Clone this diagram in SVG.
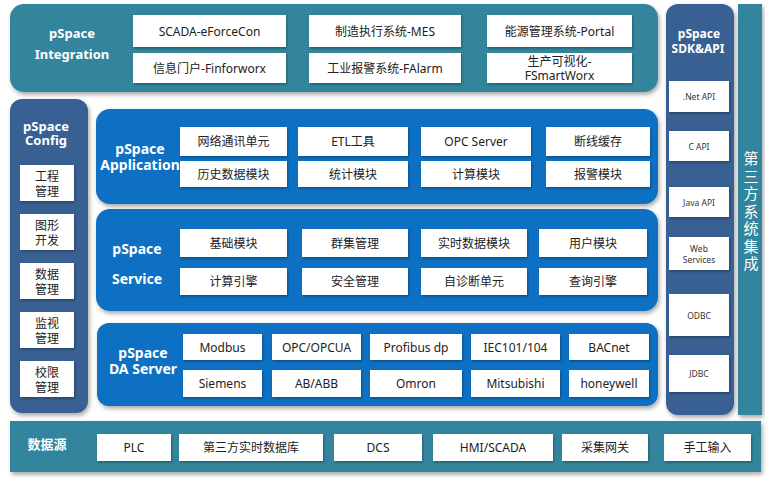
<svg xmlns="http://www.w3.org/2000/svg" width="771" height="478" viewBox="0 0 771 478">
<defs>
<filter id="sh" x="-10%" y="-10%" width="120%" height="130%">
<feDropShadow dx="1.5" dy="2.5" stdDeviation="2" flood-color="#000" flood-opacity="0.35"/>
</filter>
<filter id="bs" x="-10%" y="-10%" width="120%" height="130%">
<feDropShadow dx="1" dy="1.5" stdDeviation="1" flood-color="#000" flood-opacity="0.3"/>
</filter>
<style>
.teal{fill:#31859c}
.navy{fill:#376092}
.blue{fill:#0a70c2}
.box{fill:#ffffff}
.t{font-family:"Noto Sans","Noto Sans CJK SC",sans-serif;font-size:12px;fill:#222;text-anchor:middle;dominant-baseline:central}
.s{font-family:"Noto Sans","Noto Sans CJK SC",sans-serif;font-size:8.5px;fill:#333;text-anchor:middle;dominant-baseline:central}
.h{font-family:"Noto Sans","Noto Sans CJK SC",sans-serif;font-size:13px;font-weight:bold;fill:#fff;text-anchor:middle;dominant-baseline:central}
.v{font-family:"Noto Sans CJK SC",sans-serif;font-size:15px;fill:#fff;text-anchor:middle;dominant-baseline:central}
</style>
</defs>

<g id="integration">
<rect class="teal" x="10" y="4" width="648" height="88" rx="14" filter="url(#sh)"/>
<text class="h" x="72" y="33">pSpace<tspan x="72" dy="21">Integration</tspan></text>
<g filter="url(#bs)">
<rect class="box" x="133" y="15" width="153" height="32"/>
<rect class="box" x="309" y="15" width="152" height="32"/>
<rect class="box" x="487" y="15" width="145" height="32"/>
<rect class="box" x="133" y="53" width="153" height="30"/>
<rect class="box" x="309" y="53" width="152" height="30"/>
<rect class="box" x="487" y="53" width="145" height="30"/>
</g>
<text class="t" x="209.5" y="31">SCADA-eForceCon</text>
<text class="t" x="385" y="31">制造执行系统-MES</text>
<text class="t" x="559.5" y="31">能源管理系统-Portal</text>
<text class="t" x="209.5" y="68">信息门户-Finforworx</text>
<text class="t" x="385" y="68">工业报警系统-FAlarm</text>
<text class="t" x="559.5" y="61">生产可视化-<tspan x="559.5" dy="14">FSmartWorx</tspan></text>
</g>

<g id="config">
<rect class="navy" x="10" y="99" width="78" height="314" rx="12" filter="url(#sh)"/>
<text class="h" x="46" y="126">pSpace<tspan x="46" dy="14">Config</tspan></text>
<g filter="url(#bs)">
<rect class="box" x="20" y="165" width="54" height="36"/>
<rect class="box" x="20" y="214" width="54" height="36"/>
<rect class="box" x="20" y="263" width="54" height="36"/>
<rect class="box" x="20" y="312" width="54" height="36"/>
<rect class="box" x="20" y="361" width="54" height="36"/>
</g>
<text class="t" x="47" y="176">工程<tspan x="47" dy="15">管理</tspan></text>
<text class="t" x="47" y="225">图形<tspan x="47" dy="15">开发</tspan></text>
<text class="t" x="47" y="274">数据<tspan x="47" dy="15">管理</tspan></text>
<text class="t" x="47" y="323">监视<tspan x="47" dy="15">管理</tspan></text>
<text class="t" x="47" y="372">校限<tspan x="47" dy="15">管理</tspan></text>
</g>

<g id="application">
<rect class="blue" x="96" y="109" width="562" height="95" rx="14" filter="url(#sh)"/>
<text class="h" x="140" y="148" style="font-size:14px">pSpace<tspan x="140" dy="16">Application</tspan></text>
<g filter="url(#bs)">
<rect class="box" x="180" y="127" width="107" height="29"/>
<rect class="box" x="298" y="127" width="110" height="29"/>
<rect class="box" x="421" y="127" width="110" height="29"/>
<rect class="box" x="546" y="127" width="104" height="29"/>
<rect class="box" x="180" y="161" width="107" height="26"/>
<rect class="box" x="298" y="161" width="110" height="26"/>
<rect class="box" x="421" y="161" width="110" height="26"/>
<rect class="box" x="546" y="161" width="104" height="26"/>
</g>
<text class="t" x="233.5" y="141.5">网络通讯单元</text>
<text class="t" x="353" y="141.5">ETL工具</text>
<text class="t" x="476" y="141.5">OPC Server</text>
<text class="t" x="598" y="141.5">断线缓存</text>
<text class="t" x="233.5" y="174">历史数据模块</text>
<text class="t" x="353" y="174">统计模块</text>
<text class="t" x="476" y="174">计算模块</text>
<text class="t" x="598" y="174">报警模块</text>
</g>

<g id="service">
<rect class="blue" x="96" y="209" width="562" height="102" rx="14" filter="url(#sh)"/>
<text class="h" x="137" y="248" style="font-size:14px">pSpace</text>
<text class="h" x="137" y="278" style="font-size:14px">Service</text>
<g filter="url(#bs)">
<rect class="box" x="180" y="229" width="107" height="28"/>
<rect class="box" x="302" y="229" width="106" height="28"/>
<rect class="box" x="421" y="229" width="106" height="28"/>
<rect class="box" x="539" y="229" width="108" height="28"/>
<rect class="box" x="180" y="268" width="107" height="27"/>
<rect class="box" x="302" y="268" width="106" height="27"/>
<rect class="box" x="421" y="268" width="106" height="27"/>
<rect class="box" x="539" y="268" width="108" height="27"/>
</g>
<text class="t" x="233.5" y="243">基础模块</text>
<text class="t" x="355" y="243">群集管理</text>
<text class="t" x="474" y="243">实时数据模块</text>
<text class="t" x="593" y="243">用户模块</text>
<text class="t" x="233.5" y="281.5">计算引擎</text>
<text class="t" x="355" y="281.5">安全管理</text>
<text class="t" x="474" y="281.5">自诊断单元</text>
<text class="t" x="593" y="281.5">查询引擎</text>
</g>

<g id="daserver">
<rect class="blue" x="97" y="323" width="561" height="83" rx="12" filter="url(#sh)"/>
<text class="h" x="143" y="352" style="font-size:14px">pSpace<tspan x="143" dy="16">DA Server</tspan></text>
<g filter="url(#bs)">
<rect class="box" x="183" y="334" width="79" height="26"/>
<rect class="box" x="272" y="334" width="89" height="26"/>
<rect class="box" x="370" y="334" width="92" height="26"/>
<rect class="box" x="471" y="334" width="89" height="26"/>
<rect class="box" x="569" y="334" width="80" height="26"/>
<rect class="box" x="183" y="370" width="79" height="27"/>
<rect class="box" x="272" y="370" width="89" height="27"/>
<rect class="box" x="370" y="370" width="92" height="27"/>
<rect class="box" x="471" y="370" width="89" height="27"/>
<rect class="box" x="569" y="370" width="80" height="27"/>
</g>
<text class="t" x="222.5" y="347">Modbus</text>
<text class="t" x="316.5" y="347">OPC/OPCUA</text>
<text class="t" x="416" y="347">Profibus dp</text>
<text class="t" x="515.5" y="347">IEC101/104</text>
<text class="t" x="609" y="347">BACnet</text>
<text class="t" x="222.5" y="383.5">Siemens</text>
<text class="t" x="316.5" y="383.5">AB/ABB</text>
<text class="t" x="416" y="383.5">Omron</text>
<text class="t" x="515.5" y="383.5">Mitsubishi</text>
<text class="t" x="609" y="383.5">honeywell</text>
</g>

<g id="sdkapi">
<rect class="navy" x="666" y="4" width="68" height="411" rx="12" filter="url(#sh)"/>
<text class="h" x="699" y="33" style="font-size:12px">pSpace<tspan x="698" dy="15">SDK&amp;API</tspan></text>
<g filter="url(#bs)">
<rect class="box" x="669" y="81" width="60" height="31"/>
<rect class="box" x="669" y="131" width="60" height="30"/>
<rect class="box" x="669" y="187" width="60" height="30"/>
<rect class="box" x="669" y="237" width="60" height="33"/>
<rect class="box" x="669" y="294" width="60" height="42"/>
<rect class="box" x="669" y="355" width="60" height="37"/>
</g>
<text class="s" x="699" y="96.5">.Net API</text>
<text class="s" x="699" y="146">C API</text>
<text class="s" x="699" y="202">Java API</text>
<text class="s" x="699" y="248">Web<tspan x="699" dy="11">Services</tspan></text>
<text class="s" x="699" y="315">ODBC</text>
<text class="s" x="699" y="373.5">JDBC</text>
</g>

<g id="thirdparty">
<rect class="teal" x="738" y="4" width="24" height="411" filter="url(#sh)"/>
<text class="v" x="751" y="157">第<tspan x="751" dy="17.5">三</tspan><tspan x="751" dy="17.5">方</tspan><tspan x="751" dy="17.5">系</tspan><tspan x="751" dy="17.5">统</tspan><tspan x="751" dy="17.5">集</tspan><tspan x="751" dy="17.5">成</tspan></text>
</g>

<g id="datasource">
<rect class="teal" x="10" y="421" width="751" height="51" filter="url(#sh)"/>
<text class="h" x="47" y="444">数据源</text>
<g filter="url(#bs)">
<rect class="box" x="97" y="434" width="74" height="27"/>
<rect class="box" x="179" y="434" width="144" height="27"/>
<rect class="box" x="334" y="434" width="88" height="27"/>
<rect class="box" x="433" y="434" width="120" height="27"/>
<rect class="box" x="562" y="434" width="86" height="27"/>
<rect class="box" x="664" y="434" width="87" height="27"/>
</g>
<text class="t" x="134" y="447.5">PLC</text>
<text class="t" x="251" y="447.5">第三方实时数据库</text>
<text class="t" x="378" y="447.5">DCS</text>
<text class="t" x="493" y="447.5">HMI/SCADA</text>
<text class="t" x="605" y="447.5">采集网关</text>
<text class="t" x="707.5" y="447.5">手工输入</text>
</g>

<g id="connectors"></g>
</svg>
